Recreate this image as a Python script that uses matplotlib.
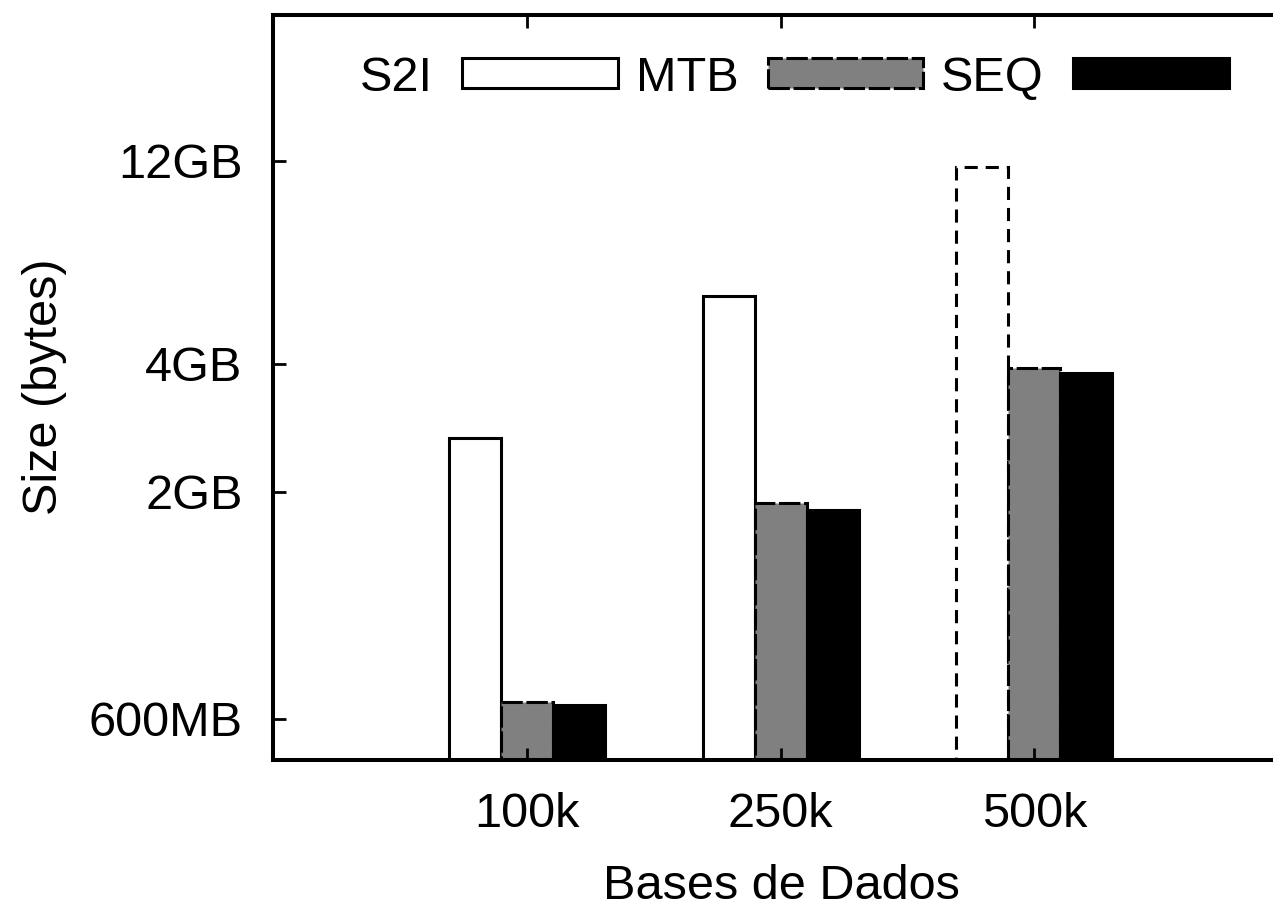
import matplotlib
matplotlib.use('Agg')
import matplotlib.pyplot as plt
import numpy as np

### Data (sizes in MB, 1GB = 1024MB)
categories = ['100k', '250k', '500k']
s2i = [2743, 5918, 11894]
mtb = [658, 1931, 4008]
seq = [647, 1858, 3901]
yTickValues = [600, 2048, 4096, 12288]
yTickLabels = ['600MB', '2GB', '4GB', '12GB']

plt.rcParams['font.family'] = ['Liberation Sans', 'DejaVu Sans']
plt.rcParams['font.size'] = 35

fig = plt.figure(figsize=(12.73, 9.07), dpi=100)
ax = fig.add_axes([0.2145, 0.1621, 0.7855, 0.8214])

x = np.arange(1, len(categories) + 1)
width = 0.205
yMin, yMax = 480, 27000

### S2I: last bar is drawn dashed
s2iBars = ax.bar(x - width, s2i, width, color='white', edgecolor='black', linewidth=2.2, label='S2I')
s2iBars[-1].set_linestyle((0, (4.3, 2.6)))
ax.bar(x, mtb, width, color='#808080', edgecolor='black', linewidth=2.2, linestyle=(0, (7, 1.2)), label='MTB')
ax.bar(x + width, seq, width, color='black', edgecolor='black', linewidth=2.2, label='SEQ')

ax.set_yscale('log')
ax.set_ylim(yMin, yMax)
ax.set_xlim(0, 3.94)
ax.set_yticks(yTickValues)
ax.set_yticklabels(yTickLabels)
ax.yaxis.set_minor_locator(matplotlib.ticker.NullLocator())
ax.set_xticks(x)
ax.set_xticklabels(categories)
ax.tick_params(axis='y', direction='in', length=9, width=2, pad=22)
ax.tick_params(axis='x', direction='in', length=9, width=2, pad=23, top=True)

for side in ['left', 'bottom', 'top']:
    ax.spines[side].set_linewidth(2.9)
ax.spines['right'].set_visible(False)

ax.set_ylabel('Size (bytes)')
ax.yaxis.set_label_coords(-0.206, 0.5007)
ax.set_xlabel('Bases de Dados')
ax.xaxis.set_label_coords(0.5085, -0.139)

### Legend, gnuplot style (text before the key)
handles, labels = ax.get_legend_handles_labels()
leg = fig.legend(handles, labels, loc='center left', bbox_to_anchor=(0.2828, 0.914), ncol=3, frameon=False,
                 markerfirst=False, handlelength=3.2, handleheight=0.57, handletextpad=0.6,
                 columnspacing=0.37, borderpad=0, borderaxespad=0)

plt.savefig('out.png', dpi=100)
plt.close()
